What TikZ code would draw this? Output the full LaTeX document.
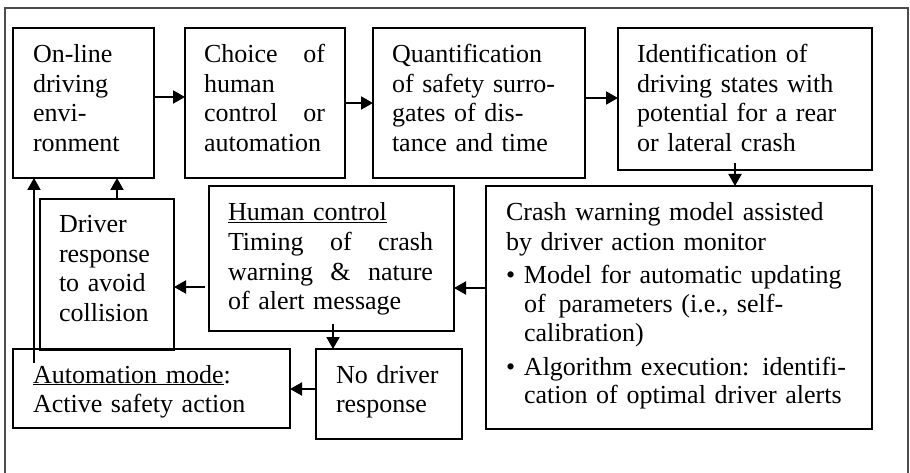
\documentclass[tikz,border=0pt]{standalone}
\usepackage{fontspec}
\setmainfont{Liberation Serif}
\usetikzlibrary{arrows.meta}
\begin{document}
\begin{tikzpicture}[x=1pt,y=-1pt,
  box/.style={draw, line width=1.8pt, rectangle, inner sep=0pt, outer sep=0pt},
  txt/.style={anchor=north west, inner sep=0pt, outer sep=0pt, align=left,
              font=\fontsize{26}{29.5}\selectfont},
  arr/.style={line width=2pt, -{Triangle[length=12pt,width=13pt]}},
  frame/.style={line width=1.3pt, draw=black!70}]
\useasboundingbox (0,0) rectangle (910,473);
\draw[frame] (5,473) -- (5,8) -- (908,8) -- (908,473);

% boxes
\node[box, minimum width=141pt, minimum height=150pt] (b1) at (83.5,103) {};
\node[box, minimum width=160pt, minimum height=150pt] (b2) at (265,103) {};
\node[box, minimum width=212pt, minimum height=150pt] (b3) at (479,103) {};
\node[box, minimum width=254pt, minimum height=142pt] (b4) at (745,99) {};
\node[box, minimum width=386pt, minimum height=243pt] (b5) at (679,307.5) {};
\node[box, minimum width=245pt, minimum height=145pt] (b6) at (331.5,258.5) {};
\node[box, minimum width=134pt, minimum height=151pt] (b7) at (107,274.5) {};
\node[box, minimum width=277pt, minimum height=79pt] (b8) at (151.5,388.5) {};
\node[box, minimum width=146pt, minimum height=90pt] (b9) at (389,394) {};

% texts
\node[txt, text width=120pt] (t1) at (33,42.35)
  {\strut On-line\\driving\\envi-\\ronment};
\node[txt, text width=121pt] (t2) at (204,42.35)
  {\strut Choice\hfill of\\human\\control\hfill or\\automation};
\node[txt, text width=190pt] (t3) at (392,42.35)
  {\strut Quantification\\of safety surro-\\gates of dis-\\tance and time};
\node[txt, text width=230pt] (t4) at (637,42.35)
  {\strut Identification of\\driving states with\\potential for a rear\\or lateral crash};
\node[txt, text width=360pt, font=\fontsize{26}{29}\selectfont] (t5) at (506,200.7)
  {\strut Crash warning model assisted\\by driver action monitor\\[4.5pt]
   \makebox[18pt][l]{•}Model for automatic updating\\
   \hspace*{18pt}of\, parameters (i.e., self-\\
   \hspace*{18pt}calibration)\\[4.5pt]
   \makebox[18pt][l]{•}Algorithm execution: identifi-\\
   \hspace*{18pt}cation of optimal driver alerts};
\node[txt, text width=205pt] (t6) at (228,200.35)
  {\strut\underline{Human control}\\Timing\hfill of\hfill crash\\warning\hfill\&\hfill nature\\of alert message};
\node[txt, text width=115pt] (t7) at (59,212.35)
  {\strut Driver\\response\\to avoid\\collision};
\node[txt, text width=250pt] (t8) at (33,362.35)
  {\strut\underline{Automation mode}:\\Active safety action};
\node[txt, text width=125pt] (t9) at (336,362.35)
  {\strut No driver\\response};

% connectors
\coordinate (c81) at (34,363);
\draw[arr] (b1.east |- 0,97) -- (b2.west |- 0,97);
\draw[arr] (b2.east |- 0,103) -- (b3.west |- 0,103);
\draw[arr] (b3.east |- 0,98) -- (b4.west |- 0,98);
\draw[arr] ([yshift=7pt]b4.south -| 735,0) -- (b5.north -| 735,0);
\draw[arr] (b5.west |- 0,288) -- (b6.east |- 0,288);
\draw[arr] ([xshift=-4pt]b6.west |- 0,287) -- (b7.east |- 0,287);
\draw[arr] ([yshift=7pt]b6.south -| 333,0) -- (b9.north -| 333,0);
\draw[arr] (b9.west |- 0,389) -- (b8.east |- 0,389);
\draw[arr] (b7.north -| 117,0) -- (b1.south -| 117,0);
\draw[arr] (c81) -- (b1.south -| c81);
\end{tikzpicture}
\end{document}
